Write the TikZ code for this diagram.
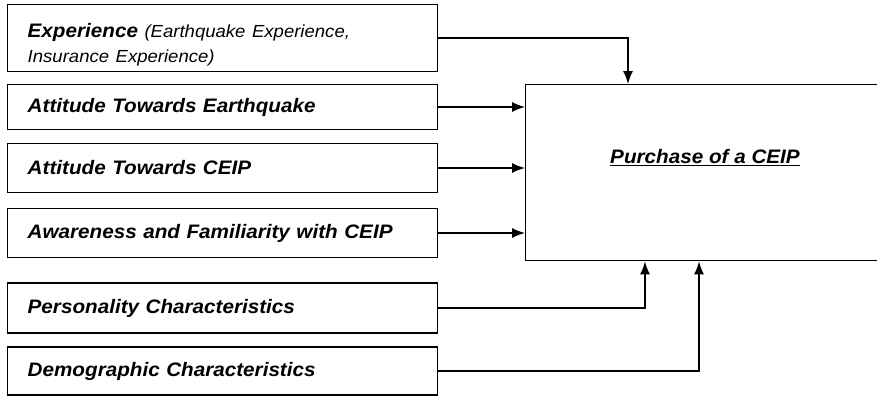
\documentclass[tikz,border=0pt]{standalone}
\usepackage{fontspec}
\setmainfont{Liberation Sans}[FakeStretch=1.06]
\usetikzlibrary{arrows.meta}

\begin{document}
\begin{tikzpicture}[
    x=1pt, y=-1pt,
    >={Latex[length=13pt,width=10pt]},
    cefactor/.style={draw, line width=1.4pt, anchor=west, minimum width=430pt, text width=390pt, inner xsep=20pt, align=left, font=\fontsize{19.5}{25}\selectfont\bfseries\itshape},
    ceoutcome/.style={draw, line width=1.4pt, anchor=north west, minimum width=370pt, minimum height=176pt},
    cearrow/.style={->, line width=1.4pt}
]
\useasboundingbox (0,0) rectangle (877,413);
\node[cefactor, minimum height=67pt] (exp) at (7,38) {\rule{0pt}{27pt}Experience {\mdseries\fontsize{17.5}{25}\selectfont (Earthquake Experience,\\ Insurance Experience)}};
\node[cefactor, minimum height=45pt] (atteq) at (7,107) {Attitude Towards Earthquake};
\node[cefactor, minimum height=49pt] (attceip) at (7,168) {Attitude Towards CEIP};
\node[cefactor, minimum height=49pt] (aware) at (7,233) {Awareness and Familiarity with CEIP};
\node[cefactor, minimum height=50pt] (pers) at (7,308) {Personality Characteristics};
\node[cefactor, minimum height=48pt] (demo) at (7,371) {Demographic Characteristics};
\node[ceoutcome] (purchase) at (525,84) {};
\node[font=\fontsize{19.5}{25}\selectfont\bfseries\itshape] (purchaselbl) at (705,158) {\underline{Purchase of a CEIP}};

\draw[cearrow] (exp.east) -| ([xshift=103pt]purchase.north west);
\draw[cearrow] (atteq.east) -- (atteq.east -| purchase.west);
\draw[cearrow] (attceip.east) -- (attceip.east -| purchase.west);
\draw[cearrow] (aware.east) -- (aware.east -| purchase.west);
\draw[cearrow] (pers.east) -| ([xshift=120pt]purchase.south west);
\draw[cearrow] (demo.east) -| ([xshift=174pt]purchase.south west);
\end{tikzpicture}
\end{document}
